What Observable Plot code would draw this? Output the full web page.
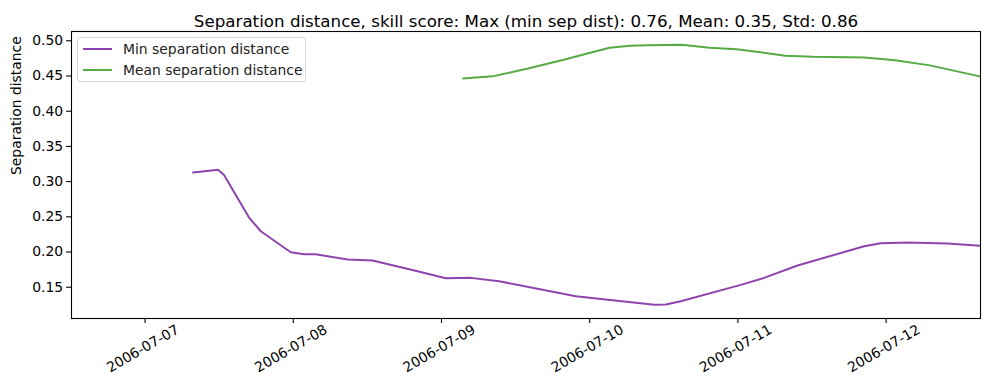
<!DOCTYPE html>
<html>
<head>
<meta charset="utf-8">
<script src="https://cdn.jsdelivr.net/npm/d3@7"></script>
<script src="https://cdn.jsdelivr.net/npm/@observablehq/plot@0.6"></script>
<style>
  html, body { margin: 0; padding: 0; background: white; }
  #wrap { position: relative; width: 989px; height: 390px; font-family: "DejaVu Sans", sans-serif; }
  #legend { position: absolute; left: 77px; top: 37px; width: 229px; height: 45px; box-sizing: border-box;
            border: 1px solid #d6d6d6; border-radius: 3px; background: rgba(255,255,255,0.8); }
  .row { position: absolute; left: 0; height: 20px; font-size: 13.9px; color: #222; white-space: nowrap; }
  .sw { position: absolute; left: 5px; width: 29px; height: 0; border-top: 2px solid; }
  .lab { position: absolute; left: 45px; line-height: 20px; top: -10px; }
</style>
</head>
<body>
<div id="wrap">
  <div id="chart"></div>
  <div id="legend"></div>
</div>
<script>
// ---- data ----
const titleText = "Separation distance, skill score: Max (min sep dist): 0.76, Mean: 0.35, Std: 0.86";
const yLabel = "Separation distance";
const seriesNames = ["Min separation distance", "Mean separation distance"];
const seriesColors = ["#8e44ad", "#56ab45"];

const minTimes = [
  "2006-07-07T07:46Z","2006-07-07T11:49Z","2006-07-07T12:47Z","2006-07-07T16:50Z","2006-07-07T18:44Z",
  "2006-07-07T23:35Z","2006-07-08T01:45Z","2006-07-08T03:38Z","2006-07-08T08:47Z","2006-07-08T12:50Z",
  "2006-07-08T14:42Z","2006-07-08T20:07Z","2006-07-09T00:42Z","2006-07-09T04:44Z","2006-07-09T09:20Z",
  "2006-07-09T21:45Z","2006-07-10T10:26Z","2006-07-10T12:19Z","2006-07-10T14:45Z","2006-07-11T00:28Z",
  "2006-07-11T04:14Z","2006-07-11T09:39Z","2006-07-11T20:26Z","2006-07-11T23:08Z","2006-07-12T03:28Z",
  "2006-07-12T09:56Z","2006-07-12T15:20Z"
];
const minValues = [
  0.313, 0.317, 0.3095, 0.249, 0.2295,
  0.1997, 0.1968, 0.1968, 0.1893, 0.1879,
  0.1841, 0.1727, 0.1628, 0.1633, 0.1585,
  0.1372, 0.1250, 0.1255, 0.1301, 0.1534,
  0.1633, 0.1808, 0.2082, 0.2124, 0.2134,
  0.2120, 0.2087
];

const meanTimes = [
  "2006-07-09T03:31Z","2006-07-09T08:16Z","2006-07-09T13:50Z","2006-07-09T19:58Z","2006-07-09T23:18Z",
  "2006-07-10T03:13Z","2006-07-10T06:34Z","2006-07-10T09:20Z","2006-07-10T14:55Z","2006-07-10T19:23Z",
  "2006-07-10T23:50Z","2006-07-11T07:40Z","2006-07-11T12:07Z","2006-07-11T20:29Z","2006-07-12T01:29Z",
  "2006-07-12T07:04Z","2006-07-12T15:10Z"
];
const meanValues = [
  0.4465, 0.4495, 0.4603, 0.4735, 0.4813,
  0.4901, 0.4929, 0.4935, 0.4945, 0.4901,
  0.4881, 0.4788, 0.4773, 0.4763, 0.4725,
  0.4651, 0.4495
];

const xTickLabels = ["2006-07-07","2006-07-08","2006-07-09","2006-07-10","2006-07-11","2006-07-12"];
const yTicks = [0.15, 0.20, 0.25, 0.30, 0.35, 0.40, 0.45, 0.50];
const xDomain = ["2006-07-06T12:05Z", "2006-07-12T15:17Z"];
const yDomain = [0.1056, 0.5132];

// ---- build table ----
const rows = [
  ...minTimes.map((t, i) => ({date: new Date(t), value: minValues[i], series: seriesNames[0]})),
  ...meanTimes.map((t, i) => ({date: new Date(t), value: meanValues[i], series: seriesNames[1]}))
];
const xTicks = xTickLabels.map(s => new Date(s + "T00:00Z"));
const fmtDate = d3.utcFormat("%Y-%m-%d");

const chart = Plot.plot({
  width: 989,
  height: 390,
  marginLeft: 71,
  marginRight: 9,
  marginTop: 31,
  marginBottom: 72,
  style: {fontFamily: "DejaVu Sans, sans-serif", fontSize: "13.9px", color: "black", background: "white"},
  x: {type: "utc", domain: xDomain.map(s => new Date(s))},
  y: {domain: yDomain},
  color: {domain: seriesNames, range: seriesColors},
  marks: [
    Plot.line(rows, {x: "date", y: "value", z: "series", stroke: "series", strokeWidth: 2, clip: true}),
    Plot.axisX({ticks: xTicks, tickSize: 4.9, tickFormat: () => "", label: null, strokeWidth: 1.1}),
    Plot.text(xTicks, {x: d => d, text: d => fmtDate(d), frameAnchor: "bottom", rotate: -30, dy: 34, textAnchor: "middle", fontSize: 13.9, fill: "black"}),
    Plot.axisY({ticks: yTicks, tickSize: 4.9, tickPadding: 3.5, tickFormat: d3.format(".2f"), label: null, strokeWidth: 1.1, fontSize: 13.9}),
    Plot.text([yLabel], {frameAnchor: "left", dx: -55, rotate: -90, fontSize: 13.9, fill: "black"}),
    Plot.text([titleText], {frameAnchor: "top", dy: -16, fontSize: 16.7, fill: "black"}),
    Plot.frame({stroke: "black", strokeWidth: 1.1})
  ]
});
document.getElementById("chart").appendChild(chart);

// ---- legend (HTML overlay) ----
const legend = document.getElementById("legend");
seriesNames.forEach((name, i) => {
  const row = document.createElement("div");
  row.className = "row";
  row.style.top = (11 + i * 21) + "px";
  const sw = document.createElement("div");
  sw.className = "sw";
  sw.style.borderColor = seriesColors[i];
  sw.style.top = "-1px";
  const lab = document.createElement("div");
  lab.className = "lab";
  lab.textContent = name;
  row.appendChild(sw);
  row.appendChild(lab);
  legend.appendChild(row);
});
</script>
</body>
</html>
